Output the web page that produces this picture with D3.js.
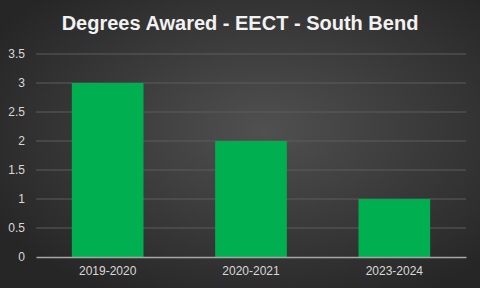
<!DOCTYPE html>
<html>
<head>
<meta charset="utf-8">
<script src="https://cdn.jsdelivr.net/npm/d3@7"></script>
<style>
  body { margin: 0; background: #333; }
  svg { display: block; font-family: "Liberation Sans", Arial, Helvetica, sans-serif; }
</style>
</head>
<body>
<svg id="chart" width="480" height="288"></svg>
<script>
const title = "Degrees Awared - EECT - South Bend"
const years = ["2019-2020", "2020-2021", "2023-2024"]
const degrees = [3, 2, 1]
const yTicks = [0, 0.5, 1, 1.5, 2, 2.5, 3, 3.5]

const svg = d3.select("#chart")
const width = +svg.attr("width")
const height = +svg.attr("height")
const margin = {top: 54, right: 14, bottom: 31, left: 36}

// background glow
const defs = svg.append("defs")
const grad = defs.append("radialGradient")
  .attr("id", "bg")
  .attr("cx", "55%").attr("cy", "45%").attr("r", "65%")
grad.append("stop").attr("offset", "0%").attr("stop-color", "#505050")
grad.append("stop").attr("offset", "100%").attr("stop-color", "#262626")

svg.append("rect")
  .attr("width", width).attr("height", height)
  .attr("fill", "url(#bg)")

const x = d3.scaleBand()
  .domain(years)
  .range([margin.left, width - margin.right])
  .paddingInner(0.5)
  .paddingOuter(0.25)

const y = d3.scaleLinear()
  .domain([0, 3.5])
  .range([height - margin.bottom, margin.top])

// gridlines
svg.append("g")
  .attr("class", "grid")
  .selectAll("line")
  .data(yTicks.filter(d => d > 0))
  .join("line")
  .attr("x1", margin.left)
  .attr("x2", width - margin.right)
  .attr("y1", d => y(d))
  .attr("y2", d => y(d))
  .attr("stroke", "#5c5c5c")
  .attr("stroke-width", 1)

// y axis labels
const yAxis = svg.append("g")
  .attr("transform", `translate(${margin.left}, 0)`)
  .call(d3.axisLeft(y).tickValues(yTicks).tickSize(0).tickPadding(11).tickFormat(d3.format("")))
yAxis.select(".domain").remove()
yAxis.selectAll("text")
  .attr("fill", "#d9d9d9")
  .style("font-size", "12px")

// bars
svg.append("g")
  .selectAll("rect")
  .data(degrees)
  .join("rect")
  .attr("x", (d, i) => x(years[i]))
  .attr("width", x.bandwidth())
  .attr("y", d => y(d))
  .attr("height", d => y(0) - y(d))
  .attr("fill", "#00b050")

// x axis
const xAxis = svg.append("g")
  .attr("transform", `translate(0, ${y(0)})`)
  .call(d3.axisBottom(x).tickSize(0).tickPadding(9))
xAxis.select(".domain")
  .attr("stroke", "#a6a6a6")
  .attr("stroke-width", 1.5)
xAxis.selectAll("text")
  .attr("fill", "#d9d9d9")
  .style("font-size", "12px")

// title
svg.append("text")
  .attr("x", width / 2)
  .attr("y", 30)
  .attr("text-anchor", "middle")
  .attr("fill", "#f2f2f2")
  .style("font-size", "20px")
  .style("font-weight", "bold")
  .text(title)
</script>
</body>
</html>
